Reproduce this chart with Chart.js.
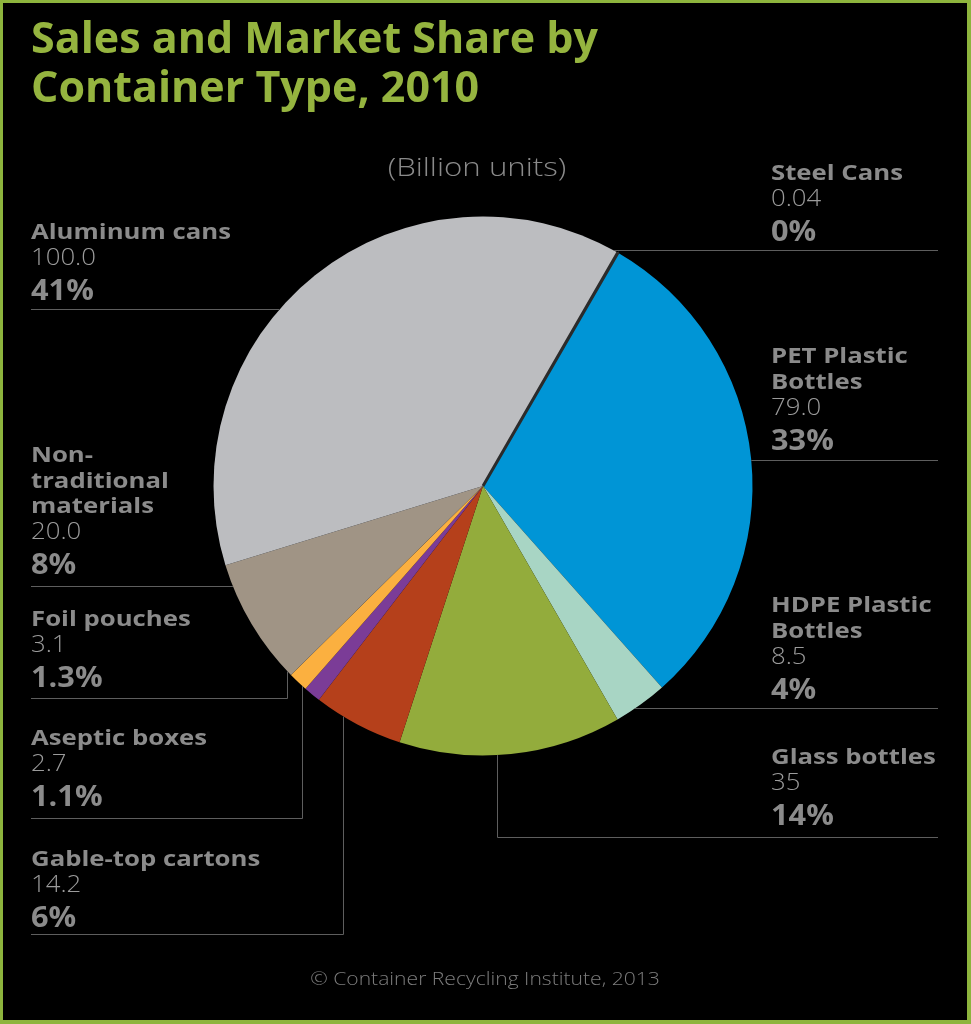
<!DOCTYPE html>
<html>
<head>
<meta charset="utf-8">
<title>Sales and Market Share by Container Type, 2010</title>
<script src="https://cdn.jsdelivr.net/npm/chart.js@4.4.0/dist/chart.umd.min.js"></script>
<style>
  html, body { margin: 0; padding: 0; background: #000; }
  #wrap { position: relative; width: 971px; height: 1024px; background: #000; overflow: hidden; }
  #frame { position: absolute; left: 0; top: 0; width: 971px; height: 1024px; box-sizing: border-box;
           border: 3px solid #8db43d; border-right-width: 4px; border-bottom-width: 4px; pointer-events: none; }
  canvas { position: absolute; left: 0; top: 0; }
</style>
</head>
<body>
<div id="wrap">
  <canvas id="pie" width="971" height="1024"></canvas>
  <div id="frame"></div>
</div>
<script>
// data (billion units, 2010) - drawing order clockwise from PET, steel last so its dark edge shows
var labels = ['PET Plastic Bottles', 'HDPE Plastic Bottles', 'Glass bottles', 'Gable-top cartons',
              'Aseptic boxes', 'Foil pouches', 'Non-traditional materials', 'Aluminum cans', 'Steel Cans'];
var units = [79.0, 8.5, 35, 14.2, 2.7, 3.1, 20.0, 100.0, 0.04];
var unitText = ['79.0', '8.5', '35', '14.2', '2.7', '3.1', '20.0', '100.0', '0.04'];
var shareText = ['33%', '4%', '14%', '6%', '1.1%', '1.3%', '8%', '41%', '0%'];
var colors = ['#0095d6', '#a8d5c4', '#93ac3c', '#b5401b', '#7b3c97', '#fbb040', '#a09485', '#bcbdc0', '#2b2b2b'];

// label blocks: name lines, text x / first baseline, leader line y, optional elbow x
var labelPos = [
  { name: ['PET Plastic', 'Bottles'], x: 771, y: 363, side: 'R', lineY: 460 },
  { name: ['HDPE Plastic', 'Bottles'], x: 771, y: 612, side: 'R', lineY: 708 },
  { name: ['Glass bottles'], x: 771, y: 764, side: 'R', lineY: 837, elbow: 497 },
  { name: ['Gable-top cartons'], x: 31, y: 866, side: 'L', lineY: 934, elbow: 343 },
  { name: ['Aseptic boxes'], x: 31, y: 745, side: 'L', lineY: 818, elbow: 302 },
  { name: ['Foil pouches'], x: 31, y: 626, side: 'L', lineY: 698, elbow: 287 },
  { name: ['Non-', 'traditional', 'materials'], x: 31, y: 462, side: 'L', lineY: 586 },
  { name: ['Aluminum cans'], x: 31, y: 239, side: 'L', lineY: 309 },
  { name: ['Steel Cans'], x: 771, y: 180, side: 'R', lineY: 250 }
];

function txt(ctx, s, x, y, font, color, sx, align) {
  ctx.save();
  ctx.font = font;
  ctx.fillStyle = color;
  ctx.textBaseline = 'alphabetic';
  ctx.textAlign = 'left';
  var w = ctx.measureText(s).width * sx;
  var x0 = align === 'center' ? x - w / 2 : x;
  ctx.translate(x0, y);
  ctx.scale(sx, 1);
  ctx.fillText(s, 0, 0);
  ctx.restore();
}

var labelPlugin = {
  id: 'labels',
  afterDraw: function(chart) {
    var ctx = chart.ctx;
    var arc = chart.getDatasetMeta(0).data[0];
    var cx = arc.x, cy = arc.y, r = arc.outerRadius;
    var F = '"Open Sans", "Liberation Sans", sans-serif';

    // title
    txt(ctx, 'Sales and Market Share by', 31, 53, 'bold 43px ' + F, '#95b43f', 1.0);
    txt(ctx, 'Container Type, 2010', 31, 102, 'bold 43px ' + F, '#95b43f', 1.0);
    txt(ctx, '(Billion units)', 477, 176, '300 25px ' + F, '#8a8a8a', 1.25, 'center');
    txt(ctx, '\u00a9 Container Recycling Institute, 2013', 485, 985, '300 19px ' + F, '#7c7c7c', 1.11, 'center');

    ctx.save();
    ctx.strokeStyle = '#5e5e5e';
    ctx.lineWidth = 1;
    labelPos.forEach(function(p, i) {
      var y = p.y;
      p.name.forEach(function(line, k) {
        txt(ctx, line, p.x, y, 'bold 22px ' + F, '#8b8b8b', 1.17);
        if (k < p.name.length - 1) y += 25.5;
      });
      y += 26;
      txt(ctx, unitText[i], p.x, y, '300 23px ' + F, '#9b9b9b', 1.12);
      y += 35;
      txt(ctx, shareText[i], p.x, y, 'bold 29px ' + F, '#8b8b8b', 1.06);

      // leader line
      var ly = p.lineY + 0.5;
      ctx.beginPath();
      if (p.elbow) {
        var ex = p.elbow + 0.5;
        var ey = cy + Math.sqrt(Math.max(0, r * r - (ex - cx) * (ex - cx)));
        if (p.side === 'L') { ctx.moveTo(31, ly); ctx.lineTo(ex, ly); }
        else { ctx.moveTo(ex, ly); ctx.lineTo(938, ly); }
        ctx.moveTo(ex, ly);
        ctx.lineTo(ex, ey);
      } else {
        var dx = Math.sqrt(Math.max(0, r * r - (ly - cy) * (ly - cy)));
        if (p.side === 'L') { ctx.moveTo(31, ly); ctx.lineTo(cx - dx, ly); }
        else { ctx.moveTo(cx + dx, ly); ctx.lineTo(938, ly); }
      }
      ctx.stroke();
    });
    ctx.restore();
  }
};

new Chart(document.getElementById('pie'), {
  type: 'pie',
  data: {
    labels: labels,
    datasets: [{
      data: units,
      backgroundColor: colors,
      borderColor: '#2b2b2b',
      borderWidth: [0, 0, 0, 0, 0, 0, 0, 0, 3]
    }]
  },
  options: {
    responsive: false,
    animation: false,
    devicePixelRatio: 1,
    rotation: 30.06,
    layout: { padding: { left: 212, right: 217, top: 215, bottom: 267 } },
    plugins: {
      legend: { display: false },
      tooltip: { enabled: false },
      title: { display: false }
    },
    events: []
  },
  plugins: [labelPlugin]
});
</script>
</body>
</html>
